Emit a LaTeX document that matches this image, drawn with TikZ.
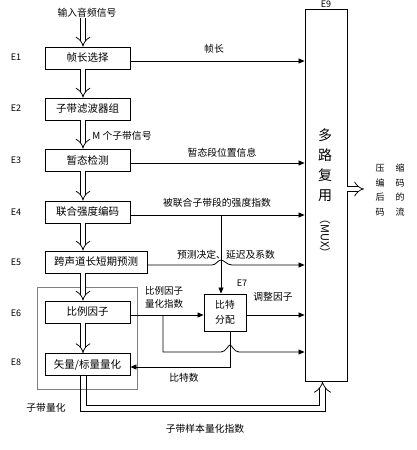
\documentclass[tikz,border=0pt]{standalone}
\usepackage{fontspec}
\setmainfont{Noto Sans CJK SC}
\usetikzlibrary{arrows.meta}
\begin{document}
\begin{tikzpicture}[x=1pt,y=-1pt,
  box/.style={draw,line width=0.9pt,minimum width=85pt,minimum height=22pt,inner sep=0pt,font=\fontsize{10.5}{12}\selectfont},
  lbl/.style={font=\fontsize{9.8}{11}\selectfont,inner sep=0pt},
  tag/.style={font=\fontsize{9}{10}\selectfont,inner sep=0pt},
  arr/.style={line width=0.8pt,-{Triangle[length=6pt,width=5pt]}},
  ln/.style={line width=0.8pt},
  dbl/.style={double,double distance=4.5pt,line width=0.75pt,-{Implies}},
]
\useasboundingbox (0,0) rectangle (416,450);
% group frame
\draw[gray,line width=0.6pt] (37,287) rectangle (137,389);
\node[lbl] (grp) at (46,408) {子带量化};
% boxes
\node[box] (e1) at (87.5,58) {帧长选择};
\node[box] (e2) at (87.5,109) {子带滤波器组};
\node[box] (e3) at (87.5,160) {暂态检测};
\node[box] (e4) at (87.5,212) {联合强度编码};
\node[box,minimum width=102pt] (e5) at (96,262) {跨声道长短期预测};
\node[box] (e6) at (87.5,312) {比例因子};
\node[box] (e8) at (87.5,364.5) {矢量/标量量化};
\node[draw,line width=0.9pt,minimum width=42pt,minimum height=37pt,inner sep=0pt,align=center,font=\fontsize{9.8}{15}\selectfont] (e7) at (225,312.5) {比特\\分配};
\node[draw,line width=0.9pt,minimum width=42pt,minimum height=372pt,inner sep=0pt] (mux) at (326,195) {};
% mux text
\node[inner sep=0pt,align=center,font=\fontsize{14}{20}\selectfont] (muxt) at (325,165) {多\\路\\复\\用};
\node[inner sep=0pt,rotate=-90,font=\fontsize{11}{12}\selectfont] (muxm) at (325,236) {（MUX）};
\node[tag] (t9) at (326,4) {E9};
% side tags
\node[tag] (t1) at (16,57) {E1};
\node[tag] (t2) at (16,108) {E2};
\node[tag] (t3) at (16,160) {E3};
\node[tag] (t4) at (16,212) {E4};
\node[tag] (t5) at (16,262) {E5};
\node[tag] (t6) at (16,313) {E6};
\node[tag] (t8) at (16,362) {E8};
\node[tag] (t7) at (242,283) {E7};
% input
\node[lbl] (in) at (87,13) {输入音频信号};
\coordinate (ax) at (83,0);
\draw[dbl] (in.south -| ax) -- (e1.north -| ax);
\draw[dbl] (e1.south -| ax) -- (e2.north -| ax);
\draw[dbl] (e2.south -| ax) -- (e3.north -| ax);
\draw[dbl] (e3.south -| ax) -- (e4.north -| ax);
\draw[dbl] (e4.south -| ax) -- (e5.north -| ax);
\draw[dbl] (e5.south -| ax) -- (e6.north -| ax);
\draw[dbl] (e6.south -| ax) -- (e8.north -| ax);
\node[lbl] (msig) at (122,136) {M 个子带信号};
% outputs to mux
\draw[arr] ([yshift=-3pt]e1.east) -- ([yshift=-3pt]e1.east -| mux.west);
\node[lbl] (l1) at (214,49) {帧长};
\draw[arr] ([yshift=-3pt]e3.east) -- ([yshift=-3pt]e3.east -| mux.west);
\node[lbl] (l3) at (222,153) {暂态段位置信息};
\draw[arr] ([yshift=-3pt]e4.east) -- ([yshift=-3pt]e4.east -| mux.west);
\node[lbl] (l4) at (217,203) {被联合子带段的强度指数};
\coordinate (j4) at (221,215);
\draw[arr] (j4) -- (j4 |- e7.north);
\draw[arr] ([yshift=-3pt]e5.east) -- (212,265) .. controls (216,265) and (218,260) .. (221,260) .. controls (224,260) and (227,265) .. (232,265) -- (mux.west |- 0,265);
\node[lbl] (l5) at (226,255) {预测决定、延迟及系数};
% E6 -> E7
\draw[arr] ([yshift=-3pt]e6.east) -- ([yshift=-3pt]e6.east -| e7.west);
\node[lbl,align=left,font=\fontsize{9.5}{13}\selectfont] (l6) at (164,297.5) {比例因子\\量化指数};
\coordinate (j6) at (163,315);
\draw[arr] (j6) -- (163,352) -- (221,352) .. controls (226,352) and (228,345) .. (230,345) .. controls (232,345) and (234,352) .. (239,352) -- (mux.west |- 0,352);
\draw[arr] (e7.east |- 0,315) -- (mux.west |- 0,315);
\node[lbl] (l7) at (273,297) {调整因子};
\coordinate (j7) at (230,367);
\draw[arr] (e7.south -| j7) -- (j7) -- (e8.east |- j7);
\node[lbl] (l8) at (184,378) {比特数};
% bottom double path (two lines + open head)
\coordinate (ox) at (80.5,411);
\coordinate (ix) at (86,405);
\coordinate (orx) at (325.6,411);
\coordinate (irx) at (319.4,405);
\draw[ln] (e8.south -| ox) -- (ox) -- (orx) -- (orx |- 0,392);
\draw[ln] (e8.south -| ix) -- (ix) -- (irx) -- (irx |- 0,392);
\draw[dbl,double distance=5.4pt] (322.5,393) -- (mux.south -| 322.5,0);
\node[lbl] (l9) at (205,429) {子带样本量化指数};
% output
\coordinate (oe) at (364,189);
\draw[dbl] (mux.east |- oe) -- (oe);
\node[inner sep=0pt,align=center,font=\fontsize{9}{14.7}\selectfont] (outt) at (390,190) {压\hspace{11pt}缩\\编\hspace{11pt}码\\后\hspace{11pt}的\\码\hspace{11pt}流};
\end{tikzpicture}
\end{document}
